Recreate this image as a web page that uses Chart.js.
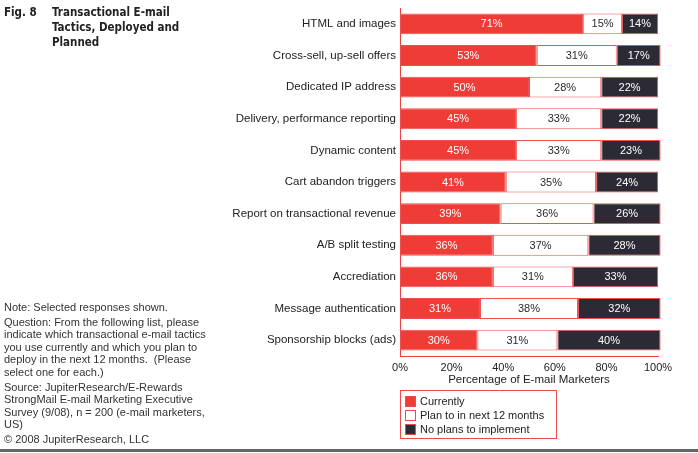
<!DOCTYPE html>
<html>
<head>
<meta charset="utf-8">
<script src="https://cdn.jsdelivr.net/npm/chart.js@4/dist/chart.umd.min.js"></script>
<style>
  html, body { margin: 0; padding: 0; background: #fff; }
  body { width: 698px; height: 453px; position: relative; overflow: hidden; font-family: "Liberation Sans", Arial, sans-serif; }
  #chart { position: absolute; left: 0; top: 0; }
  .title { position: absolute; top: 5px; font-family: "Liberation Sans Narrow", "DejaVu Sans Condensed", "Liberation Sans", sans-serif; font-weight: bold; font-size: 11.5px; line-height: 15px; color: #222; }
  #fig { left: 4px; }
  #ttl { left: 52px; width: 132px; }
  #notes { position: absolute; left: 4px; top: 301px; width: 215px; font-size: 11px; line-height: 12.6px; color: #333; }
  #notes p { margin: 0 0 2px 0; }
  #legend { position: absolute; left: 400px; top: 390px; width: 157px; height: 49px; border: 1px solid #ee4a4a; box-sizing: border-box; font-size: 11px; color: #222; padding-top: 3px; }
  .li { height: 14px; line-height: 14px; position: relative; padding-left: 19px; }
  .sw { position: absolute; left: 4px; top: 2px; width: 9px; height: 9px; border: 1px solid #ee4a4a; }
  #rule { position: absolute; left: 0; top: 449px; width: 698px; height: 3px; background: #666; }
</style>
</head>
<body>
<canvas id="chart" width="698" height="453"></canvas>
<div class="title" id="fig">Fig. 8</div>
<div class="title" id="ttl">Transactional E-mail Tactics, Deployed and Planned</div>
<div id="notes">
  <p>Note: Selected responses shown.</p>
  <p>Question: From the following list, please indicate which transactional e-mail tactics you use currently and which you plan to deploy in the next 12 months.&nbsp; (Please select one for each.)</p>
  <p>Source: JupiterResearch/E-Rewards StrongMail E-mail Marketing Executive Survey (9/08), n = 200 (e-mail marketers, US)</p>
  <p>© 2008 JupiterResearch, LLC</p>
</div>
<div id="legend"></div>
<div id="rule"></div>
<script>
const categories = [
  "HTML and images",
  "Cross-sell, up-sell offers",
  "Dedicated IP address",
  "Delivery, performance reporting",
  "Dynamic content",
  "Cart abandon triggers",
  "Report on transactional revenue",
  "A/B split testing",
  "Accrediation",
  "Message authentication",
  "Sponsorship blocks (ads)"
];
const currently = [71, 53, 50, 45, 45, 41, 39, 36, 36, 31, 30];
const planNext12 = [15, 31, 28, 33, 33, 35, 36, 37, 31, 38, 31];
const noPlans = [14, 17, 22, 22, 23, 24, 26, 28, 33, 32, 40];
const seriesNames = ["Currently", "Plan to in next 12 months", "No plans to implement"];
const xTicks = [0, 20, 40, 60, 80, 100];
const axisTitle = "Percentage of E-mail Marketers";

const fills = ["#f03c37", "#ffffff", "#2b2a35"];
const labelColors = ["#ffffff", "#2a2a2a", "#ffffff"];
const borderRed = "#ee5050";
const axisRed = "#ee4040";
const FONT = '"Liberation Sans", Arial, sans-serif';

const valueLabels = {
  id: 'valueLabels',
  afterDatasetsDraw(chart) {
    const ctx = chart.ctx;
    ctx.save();
    ctx.font = '11px ' + FONT;
    ctx.textAlign = 'center';
    ctx.textBaseline = 'middle';
    chart.data.datasets.forEach((ds, i) => {
      const meta = chart.getDatasetMeta(i);
      meta.data.forEach((bar, j) => {
        const p = bar.getProps(['x', 'base', 'y'], true);
        ctx.fillStyle = labelColors[i];
        ctx.fillText(ds.data[j] + '%', (p.x + p.base) / 2, p.y + 0.5);
      });
    });
    ctx.restore();
  }
};

const seriesData = [currently, planNext12, noPlans];
new Chart(document.getElementById('chart'), {
  type: 'bar',
  data: {
    labels: categories,
    datasets: seriesData.map((d, i) => ({
      label: seriesNames[i],
      data: d,
      backgroundColor: fills[i],
      borderColor: borderRed,
      borderWidth: 1,
      borderSkipped: false,
      barPercentage: 0.66,
      categoryPercentage: 1,
      clip: false
    }))
  },
  options: {
    indexAxis: 'y',
    responsive: false,
    animation: false,
    layout: { padding: { top: 8, right: 40, bottom: 62, left: 0 } },
    plugins: { legend: { display: false }, tooltip: { enabled: false } },
    scales: {
      x: {
        stacked: true, min: 0, max: 100,
        afterBuildTicks: s => { s.ticks = xTicks.map(v => ({ value: v })); },
        ticks: { callback: v => v + '%', padding: 5, maxRotation: 0, font: { family: FONT, size: 11 }, color: '#222' },
        grid: { display: false, drawTicks: false },
        border: { display: true, color: axisRed, width: 1 },
        title: { display: true, text: axisTitle, font: { family: FONT, size: 11.5 }, color: '#222', padding: { top: 0, bottom: 4 } },
        afterFit: s => { s.height = 35; }
      },
      y: {
        stacked: true,
        ticks: { padding: 4, font: { family: FONT, size: 11.5 }, color: '#222' },
        grid: { display: false, drawTicks: false },
        border: { display: true, color: axisRed, width: 1 },
        afterFit: s => { s.width = 400; s.paddingTop = 0; s.paddingBottom = 0; }
      }
    }
  },
  plugins: [valueLabels]
});

const lg = document.getElementById('legend');
seriesNames.forEach((n, i) => {
  const row = document.createElement('div');
  row.className = 'li';
  const sw = document.createElement('span');
  sw.className = 'sw';
  sw.style.background = fills[i];
  row.appendChild(sw);
  row.appendChild(document.createTextNode(n));
  lg.appendChild(row);
});
</script>
</body>
</html>
